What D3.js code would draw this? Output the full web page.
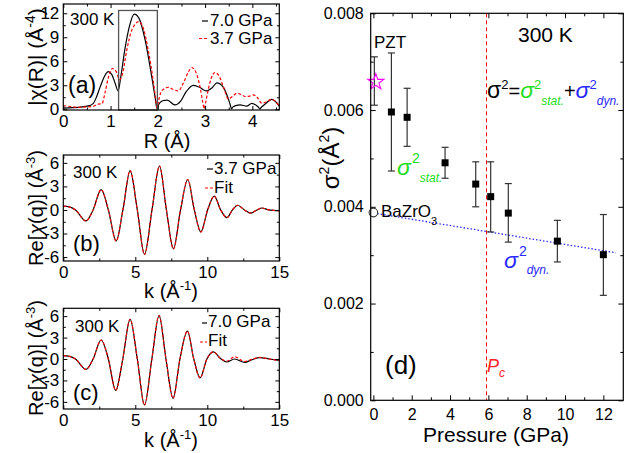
<!DOCTYPE html>
<html><head><meta charset="utf-8">
<script src="https://cdn.jsdelivr.net/npm/d3@7"></script>
<style>
body{margin:0;background:#fff}
svg text{font-family:"Liberation Sans",Arial,sans-serif}
</style>
</head><body>
<svg id="chart" width="643" height="453"></svg>
<script>
// ---------- DATA ----------
// Panel (a): |chi(R)|
const rBlack = [0,0.2,0.4,0.55,0.63,0.7,0.78,0.87,0.95,1.03,1.1,1.16,1.22,1.3,1.4,1.5,1.6,1.73,1.87,1.95,1.98,2.01,2.05,2.12,2.2,2.36,2.48,2.6,2.75,2.88,3.03,3.15,3.25,3.38,3.48,3.53,3.56,3.59,3.65,3.74,3.88,3.99,4.08,4.13,4.16,4.19,4.28,4.41,4.5,4.57];
const chi70 = [0.15,0.2,0.3,0.45,0.7,1.5,2.8,4.1,4.7,4.3,3.2,2.3,4.2,7.4,10.4,11.9,11.4,8.7,4.1,1.2,0.1,0.5,0.85,1.1,1.15,0.55,1.0,2.2,3.0,2.75,2.3,2.7,3.3,2.8,1.5,0.6,0.05,0.3,0.45,0.55,0.4,0.75,0.5,0.25,0.05,0.25,0.7,1.25,0.9,0.4];
const rRed = [0,0.15,0.3,0.5,0.62,0.74,0.82,0.88,0.95,1.04,1.12,1.19,1.26,1.34,1.45,1.6,1.7,1.8,1.9,1.95,1.98,2.02,2.08,2.22,2.32,2.43,2.55,2.65,2.72,2.8,2.9,2.95,2.98,3.01,3.05,3.13,3.21,3.3,3.4,3.49,3.58,3.67,3.76,3.85,3.94,4.02,4.1,4.2,4.3,4.41,4.5,4.57];
const chi37 = [0.45,0.35,0.25,0.3,0.35,0.65,0.7,2.0,3.9,5.1,4.7,3.7,4.6,7.3,9.9,10.95,10.0,7.3,3.7,1.5,0.2,1.2,2.3,2.75,2.5,2.3,3.4,4.7,5.2,4.7,2.6,0.9,0.05,0.8,2.0,3.9,4.6,4.1,2.6,1.3,1.6,2.0,1.85,1.6,1.65,1.8,1.5,0.75,0.95,1.25,0.9,0.4];
const fitWindow = [1.17, 1.99];
const fitWindowTop = 12.35;

// Panel (b): Re[chi(q)] at 3.7 GPa
const kB = [0,0.35,0.85,1.57,2.07,2.63,3.13,3.67,4.14,4.64,5.14,5.64,6.16,6.68,7.16,7.65,8.14,8.64,9.1,9.55,10.02,10.48,10.93,11.36,11.75,12.1,12.58,13.03,13.45,13.8,14.2,14.6,15];
const reB = [0.5,0.42,0,-1.4,0,2.6,0,-3.95,0,5.0,0,-5.66,0,5.6,0,-4.95,0,3.88,0,-2.8,0,1.75,0,-0.98,0,0.6,0,-0.4,0,0.25,0.05,-0.05,-0.1];
const reBfit = [0.5,0.42,0,-1.4,0,2.6,0,-3.95,0,5.0,0,-5.66,0,5.6,0,-4.95,0,3.88,0,-2.8,0,1.75,0,-0.98,0,0.6,0,-0.4,0,0.25,0.05,-0.05,-0.1];

// Panel (c): Re[chi(q)] at 7.0 GPa
const kC = [0,0.35,0.85,1.57,2.07,2.63,3.13,3.64,4.13,4.64,5.14,5.64,6.15,6.65,7.13,7.62,8.1,8.62,9.06,9.5,9.97,10.42,10.9,11.35,11.9,12.6,13.1,13.65,14.3,15];
const reC = [0.46,0.4,0,-1.45,0,2.66,0,-4.4,0,5.56,0,-6.44,0,6.07,0,-5.5,0,3.9,0,-2.65,0,1.0,0.1,-0.42,0.0,-0.47,-0.1,0.2,0.0,-0.2];
const reCfit = [0.46,0.4,0,-1.45,0,2.66,0,-4.4,0,5.56,0,-6.44,0,6.07,0,-5.5,0,3.9,0,-2.65,0,1.0,0.1,-0.3,0.3,-0.35,-0.05,0.22,0.0,-0.2];

// Panel (d): sigma^2 vs pressure
const pressure = [0.94,1.76,3.74,5.34,6.12,7.04,9.6,12.0];
const sigma2 = [0.00596,0.00585,0.00491,0.00447,0.00421,0.00387,0.00329,0.00301];
const sigmaLo = [0.00474,0.00525,0.00459,0.00400,0.00348,0.00327,0.00286,0.00217];
const sigmaHi = [0.00718,0.00645,0.00523,0.00493,0.00493,0.00448,0.00372,0.00384];
const pzt = {p:0.05, s:0.00658, lo:0.0061, hi:0.0071};
const bazro3 = {p:0.0, s:0.00388};
const dynLineP = [0.2, 12.65];
const dynLineS = [0.00386, 0.00305];
const pc = 5.86;

const xTicksA = [0,1,2,3,4], xMinorA = [0.5,1.5,2.5,3.5,4.5];
const yTicksA = [0,3,6,9,12], yMinorA = [1.5,4.5,7.5,10.5];
const xTicksK = [0,5,10,15], xMinorK = [2.5,7.5,12.5];
const yTicksK = [-6,-3,0,3,6], yMinorK = [-4.5,-1.5,1.5,4.5];
const xTicksD = [0,2,4,6,8,10,12], xMinorD = [1,3,5,7,9,11];
const yTicksD = [0,0.002,0.004,0.006,0.008], yMinorD = [0.001,0.003,0.005,0.007];

// ---------- DRAW ----------
const svg = d3.select('#chart');
const FONT = '"Liberation Sans",Arial,sans-serif';

function frame(x, y, o) {
  const g = svg.append('g');
  const [x0,x1] = x.range(), [y0,y1] = y.range();
  const maj = o.maj || 4, mn = o.min || 2.5;
  const style = sel => { sel.select('.domain').remove(); sel.selectAll('line').attr('stroke','#000').attr('stroke-width',1);
    sel.selectAll('text').attr('font-family',FONT).attr('font-size',o.fs).attr('fill','#000'); };
  g.append('g').attr('transform',`translate(0,${y0})`).call(d3.axisBottom(x).tickValues(o.xt).tickSize(-maj).tickPadding(o.xpad).tickFormat(o.xf||(d=>d))).call(style);
  g.append('g').attr('transform',`translate(0,${y0})`).call(d3.axisBottom(x).tickValues(o.xm).tickSize(-mn).tickFormat('')).call(style);
  g.append('g').attr('transform',`translate(0,${y1})`).call(d3.axisTop(x).tickValues(o.xt).tickSize(-maj).tickFormat('')).call(style);
  g.append('g').attr('transform',`translate(0,${y1})`).call(d3.axisTop(x).tickValues(o.xm).tickSize(-mn).tickFormat('')).call(style);
  g.append('g').attr('transform',`translate(${x0},0)`).call(d3.axisLeft(y).tickValues(o.yt).tickSize(-maj).tickPadding(o.ypad).tickFormat(o.yf||(d=>d))).call(style);
  g.append('g').attr('transform',`translate(${x0},0)`).call(d3.axisLeft(y).tickValues(o.ym).tickSize(-mn).tickFormat('')).call(style);
  g.append('g').attr('transform',`translate(${x1},0)`).call(d3.axisRight(y).tickValues(o.yt).tickSize(-maj).tickFormat('')).call(style);
  g.append('g').attr('transform',`translate(${x1},0)`).call(d3.axisRight(y).tickValues(o.ym).tickSize(-mn).tickFormat('')).call(style);
  g.append('rect').attr('x',x0).attr('y',y1).attr('width',x1-x0).attr('height',y0-y1)
    .attr('fill','none').attr('stroke','#000').attr('stroke-width',1.2);
  g.selectAll('.tick text').each(function(){ const t=d3.select(this); t.text(String(t.text()).replace('−','-')); });
  return g;
}

function rich(x, y, parts, anchor, rotate) {
  const t = svg.append('text').attr('x',x).attr('y',y).attr('font-family',FONT).attr('text-anchor',anchor||'start');
  if (rotate) t.attr('transform',`rotate(-90,${x},${y})`);
  parts.forEach(p => {
    const s = t.append('tspan').text(p.t).attr('font-size',p.fs||17).attr('fill',p.c||'#000');
    if (p.dy) s.attr('dy',p.dy);
    if (p.dx) s.attr('dx',p.dx);
    if (p.it) s.attr('font-style','italic');
  });
  return t;
}

function line(x, y, xs, ys, color, dash, w) {
  const pts = xs.map((d,i)=>[d, ys[i]]);
  svg.append('path').attr('d', d3.line().x(d=>x(d[0])).y(d=>y(d[1])).curve(d3.curveMonotoneX)(pts))
    .attr('fill','none').attr('stroke',color).attr('stroke-width',w||1.2).attr('stroke-dasharray',dash||null);
}

// ---- Panel (a)
const xa = d3.scaleLinear().domain([0,4.57]).range([63.3,279.3]);
const ya = d3.scaleLinear().domain([-0.09,13.16]).range([110,4]);
line(xa, ya, rBlack, chi70, '#000', null, 1.2);
line(xa, ya, rRed, chi37, '#ff0000', '3,2', 1.2);
svg.append('rect').attr('x',xa(fitWindow[0])).attr('y',ya(fitWindowTop))
  .attr('width',xa(fitWindow[1])-xa(fitWindow[0])).attr('height',ya.range()[0]-ya(fitWindowTop))
  .attr('fill','none').attr('stroke','#555').attr('stroke-width',1.3);
frame(xa, ya, {xt:xTicksA, xm:xMinorA, yt:yTicksA, ym:yMinorA, fs:17, xpad:5, ypad:4});
rich(70,25,[{t:'300 K',fs:17}]);
rich(68,93,[{t:'(a)',fs:23}]);
svg.append('line').attr('x1',202).attr('x2',208).attr('y1',21).attr('y2',21).attr('stroke','#000').attr('stroke-width',1.2);
rich(210,26,[{t:'7.0 GPa',fs:17}]);
svg.append('line').attr('x1',199).attr('x2',208).attr('y1',38.5).attr('y2',38.5).attr('stroke','#ff0000').attr('stroke-width',1.2).attr('stroke-dasharray','3,2');
rich(210,44,[{t:'3.7 GPa',fs:17}]);
rich(167,148,[{t:'R (Å)',fs:20}],'middle');
rich(43,57,[{t:'|χ(R)| (Å',fs:21},{t:'-4',fs:14,dy:-8},{t:')',fs:21,dy:8}],'middle',true);

// ---- Panel (b)
const xb = d3.scaleLinear().domain([0,15]).range([63.3,279.3]);
const yb = d3.scaleLinear().domain([-6.5,7]).range([261,155]);
line(xb, yb, kB, reB, '#000', null, 1.2);
line(xb, yb, kB, reBfit, '#ff0000', '3,2', 1.2);
frame(xb, yb, {xt:xTicksK, xm:xMinorK, yt:yTicksK, ym:yMinorK, fs:17, xpad:5, ypad:4});
rich(73,178,[{t:'300 K',fs:17}]);
rich(73,251,[{t:'(b)',fs:22}]);
svg.append('line').attr('x1',207).attr('x2',213).attr('y1',169).attr('y2',169).attr('stroke','#000').attr('stroke-width',1.2);
rich(214,174,[{t:'3.7 GPa',fs:17}]);
svg.append('line').attr('x1',205).attr('x2',213).attr('y1',188).attr('y2',188).attr('stroke','#ff0000').attr('stroke-width',1.2).attr('stroke-dasharray','3,2');
rich(214,193,[{t:'Fit',fs:17}]);
rich(171,298,[{t:'k (Å',fs:20},{t:'-1',fs:13,dy:-8},{t:')',fs:20,dy:8}],'middle');
rich(43,208,[{t:'Re[',fs:20},{t:'χ',fs:20,it:true},{t:'(q)] (Å',fs:20},{t:'-3',fs:13,dy:-8},{t:')',fs:20,dy:8}],'middle',true);

// ---- Panel (c)
const xc = d3.scaleLinear().domain([0,15]).range([63.3,279.3]);
const yc = d3.scaleLinear().domain([-7,7.1]).range([409,308.3]);
line(xc, yc, kC, reC, '#000', null, 1.2);
line(xc, yc, kC, reCfit, '#ff0000', '3,2', 1.2);
frame(xc, yc, {xt:xTicksK, xm:xMinorK, yt:yTicksK, ym:yMinorK, fs:17, xpad:5, ypad:4});
rich(75,332,[{t:'300 K',fs:17}]);
rich(73,400,[{t:'(c)',fs:22}]);
svg.append('line').attr('x1',202).attr('x2',207).attr('y1',323).attr('y2',323).attr('stroke','#000').attr('stroke-width',1.2);
rich(208,327,[{t:'7.0 GPa',fs:17}]);
svg.append('line').attr('x1',200).attr('x2',207).attr('y1',342).attr('y2',342).attr('stroke','#ff0000').attr('stroke-width',1.2).attr('stroke-dasharray','3,2');
rich(208,346,[{t:'Fit',fs:17}]);
rich(171,447,[{t:'k (Å',fs:20},{t:'-1',fs:13,dy:-8},{t:')',fs:20,dy:8}],'middle');
rich(43,358,[{t:'Re[',fs:20},{t:'χ',fs:20,it:true},{t:'(q)] (Å',fs:20},{t:'-3',fs:13,dy:-8},{t:')',fs:20,dy:8}],'middle',true);

// ---- Panel (d)
const xd = d3.scaleLinear().domain([-0.14,13.04]).range([370.7,623.3]);
const yd = d3.scaleLinear().domain([0,0.008]).range([400.3,13.3]);
// Pc line
const pcx = Math.round(xd(pc)) + 0.5;
svg.append('line').attr('x1',pcx).attr('x2',pcx).attr('y1',yd(0.008)).attr('y2',yd(0))
  .attr('stroke','#ff0000').attr('stroke-width',1).attr('stroke-dasharray','4,3');
// dynamic line
svg.append('path').attr('d', d3.line().x(d=>xd(d[0])).y(d=>yd(d[1]))(dynLineP.map((p,i)=>[p,dynLineS[i]])))
  .attr('stroke','#2a2aff').attr('stroke-width',1.3).attr('stroke-dasharray','1.5,2').attr('fill','none');
// error bars
const cap = 3.5;
const eb = svg.append('g').attr('stroke','#333').attr('stroke-width',1.2);
pressure.forEach((p,i)=>{
  eb.append('line').attr('x1',xd(p)).attr('x2',xd(p)).attr('y1',yd(sigmaLo[i])).attr('y2',yd(sigmaHi[i]));
  eb.append('line').attr('x1',xd(p)-cap).attr('x2',xd(p)+cap).attr('y1',yd(sigmaLo[i])).attr('y2',yd(sigmaLo[i]));
  eb.append('line').attr('x1',xd(p)-cap).attr('x2',xd(p)+cap).attr('y1',yd(sigmaHi[i])).attr('y2',yd(sigmaHi[i]));
});
eb.append('line').attr('x1',xd(pzt.p)).attr('x2',xd(pzt.p)).attr('y1',yd(pzt.lo)).attr('y2',yd(pzt.hi));
eb.append('line').attr('x1',xd(pzt.p)-cap).attr('x2',xd(pzt.p)+cap).attr('y1',yd(pzt.lo)).attr('y2',yd(pzt.lo));
eb.append('line').attr('x1',xd(pzt.p)-cap).attr('x2',xd(pzt.p)+cap).attr('y1',yd(pzt.hi)).attr('y2',yd(pzt.hi));
// squares
svg.append('g').selectAll('path').data(pressure).join('path')
  .attr('d', d3.symbol(d3.symbolSquare, 49)())
  .attr('transform',(d,i)=>`translate(${xd(d)},${yd(sigma2[i])})`).attr('fill','#000');
// star
svg.append('path').attr('d', d3.symbol(d3.symbolStar, 80)())
  .attr('transform',`translate(${xd(pzt.p)+1.5},${yd(pzt.s)})`).attr('fill','none').attr('stroke','#ff00ff').attr('stroke-width',1.1);
// BaZrO3 circle
svg.append('circle').attr('cx',xd(bazro3.p)).attr('cy',yd(bazro3.s)).attr('r',4.3)
  .attr('fill','none').attr('stroke','#333').attr('stroke-width',1.1);

frame(xd, yd, {xt:xTicksD, xm:xMinorD, yt:yTicksD, ym:yMinorD, fs:16, xpad:8, ypad:7, maj:5, min:3, yf:d3.format('.3f')});

rich(518,42,[{t:'300 K',fs:21}]);
rich(374,48,[{t:'PZT',fs:17}]);
rich(381,217,[{t:'BaZrO',fs:17},{t:'3',fs:11,dy:8}]);
rich(487,98,[
  {t:'σ',fs:23},{t:'2',fs:13,dy:-9},{t:'=',fs:20,dy:9},
  {t:'σ',fs:23,c:'#22dd22',it:true},{t:'2',fs:13,c:'#22dd22',dy:-9},{t:'stat.',fs:12,c:'#22dd22',it:true,dy:16},
  {t:'+',fs:20,dy:-7},
  {t:'σ',fs:23,c:'#2a2aff',it:true},{t:'2',fs:13,c:'#2a2aff',dy:-9},{t:'dyn.',fs:12,c:'#2a2aff',it:true,dy:16}
]);
rich(397,175,[{t:'σ',fs:23,c:'#22dd22',it:true},{t:'2',fs:14,c:'#22dd22',dy:-12,dx:1},{t:'stat.',fs:12,c:'#22dd22',it:true,dy:19}]);
rich(504,268,[{t:'σ',fs:23,c:'#2a2aff',it:true},{t:'2',fs:14,c:'#2a2aff',dy:-12,dx:1},{t:'dyn.',fs:12,c:'#2a2aff',it:true,dy:18}]);
rich(385,374,[{t:'(d)',fs:26}]);
rich(487,372,[{t:'P',fs:18,c:'#ff2222',it:true},{t:'c',fs:12,c:'#ff2222',it:true,dy:5}]);
rich(496,442,[{t:'Pressure (GPa)',fs:21}],'middle');
rich(339,158,[{t:'σ',fs:24},{t:'2',fs:14,dy:-10},{t:'(Å',fs:24,dy:10},{t:'2',fs:14,dy:-10},{t:')',fs:24,dy:10}],'middle',true);
</script>
</body></html>
